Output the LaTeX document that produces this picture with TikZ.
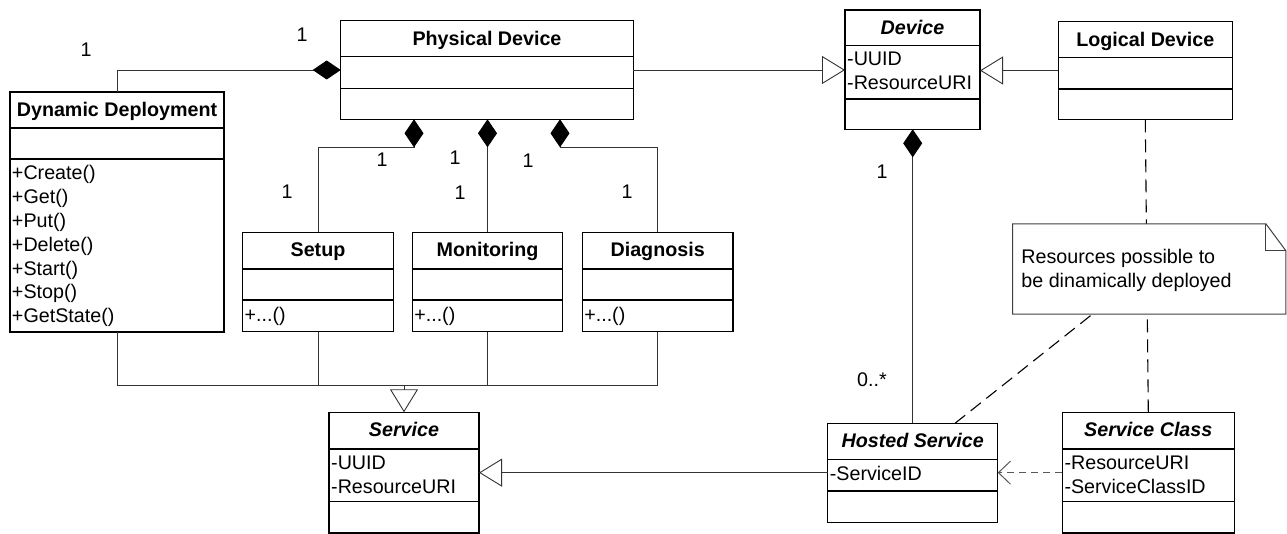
\documentclass[tikz,border=0pt]{standalone}
\usepackage{fontspec}
\setmainfont{Liberation Sans}
\usetikzlibrary{arrows.meta}

% text size used throughout the diagram
\newcommand{\umlfont}{\fontsize{19.7pt}{23.7pt}\selectfont}

% a UML class frame: name, left, top, right, bottom, first and second compartment rule
\newcommand{\umlbox}[7]{%
  \node[classframe, anchor=north west,
        minimum width={(#4)-(#2)}, minimum height={(#5)-(#3)}] (#1) at (#2,#3) {};
  \draw[classrule] (#2,#6) -- (#4,#6);
  \draw[classrule] (#2,#7) -- (#4,#7);
}

\tikzset{
  classframe/.style={draw=black, line width=1.4pt, fill=white, inner sep=0pt, outer sep=0pt},
  classrule/.style={draw=black, line width=1.4pt},
  title/.style={font=\umlfont\bfseries, anchor=base, inner sep=0pt},
  abstitle/.style={font=\umlfont\bfseries\itshape, anchor=base, inner sep=0pt},
  member/.style={font=\umlfont, anchor=base west, inner sep=0pt},
  mult/.style={font=\umlfont, anchor=base, inner sep=0pt},
  link/.style={draw=black!80, line width=0.9pt},
  comp/.style={link, -{Diamond[color=black, length=28pt, width=19pt]}},
  gen/.style={link, -{Triangle[open, length=23pt, width=28pt]}},
  dep/.style={draw=black!65, line width=1pt, dash pattern=on 7pt off 5pt,
              -{Straight Barb[length=12pt, width=23pt]}},
  notelink/.style={draw=black, line width=1.1pt, dash pattern=on 13pt off 7pt},
  notebox/.style={fill=white, draw=none, inner sep=0pt, minimum width=273pt, minimum height=90pt},
  noteedge/.style={draw=black!75, line width=1pt},
}

\begin{document}
\begin{tikzpicture}[x=1pt, y=-1pt]
\useasboundingbox (0,0) rectangle (1287,534);

% ---------- classes ----------
\umlbox{dd}{10}{92}{224}{332}{128}{159}
\umlbox{pd}{340.7}{20.7}{633.3}{119.3}{56.7}{88.3}
\umlbox{setup}{242.7}{232.3}{393.3}{331.7}{269}{300}
\umlbox{mon}{412.3}{232.3}{562.7}{331.7}{269}{300}
\umlbox{diag}{582.3}{232.3}{733}{331.7}{269}{300}
\umlbox{svc}{329}{412.3}{479}{533}{449}{501.7}
\umlbox{dev}{845}{10}{980}{129.3}{45.7}{99}
\umlbox{ld}{1058.3}{21.7}{1232.3}{119.3}{57.3}{89}
\umlbox{hs}{827.7}{423.3}{997.7}{522.3}{459.3}{491}
\umlbox{sc}{1062.3}{412.3}{1234.3}{533}{449}{501.7}

% ---------- class names ----------
\node[title]    (dd-t)    at ([yshift=-24.5pt]dd.north)    {Dynamic Deployment};
\node[title]    (pd-t)    at ([yshift=-24.5pt]pd.north)    {Physical Device};
\node[title]    (setup-t) at ([yshift=-24.5pt]setup.north) {Setup};
\node[title]    (mon-t)   at ([yshift=-24.5pt]mon.north)   {Monitoring};
\node[title]    (diag-t)  at ([yshift=-24.5pt]diag.north)  {Diagnosis};
\node[abstitle] (svc-t)   at ([yshift=-24.5pt]svc.north)   {Service};
\node[abstitle] (dev-t)   at ([yshift=-24.5pt]dev.north)   {Device};
\node[title]    (ld-t)    at ([yshift=-24.5pt]ld.north)    {Logical Device};
\node[abstitle] (hs-t)    at ([yshift=-24.5pt]hs.north)    {Hosted Service};
\node[abstitle] (sc-t)    at ([yshift=-24.5pt]sc.north)    {Service Class};

% ---------- members ----------
\node[member] (dd-m1) at (11.8,179.5) {+Create()};
\node[member] (dd-m2) at (11.8,203.4) {+Get()};
\node[member] (dd-m3) at (11.8,227.3) {+Put()};
\node[member] (dd-m4) at (11.8,251.2) {+Delete()};
\node[member] (dd-m5) at (11.8,275.1) {+Start()};
\node[member] (dd-m6) at (11.8,299.0) {+Stop()};
\node[member] (dd-m7) at (11.8,322.9) {+GetState()};

\node[member] (setup-m) at (244.5,321.5) {+...()};
\node[member] (mon-m)   at (414.1,321.5) {+...()};
\node[member] (diag-m)  at (584.1,321.5) {+...()};

\node[member] (svc-a1) at (331,469.3) {-UUID};
\node[member] (svc-a2) at (331,493.2) {-ResourceURI};
\node[member] (dev-a1) at (847,66)    {-UUID};
\node[member] (dev-a2) at (847,90)    {-ResourceURI};
\node[member] (hs-a1)  at (829.7,480) {-ServiceID};
\node[member] (sc-a1)  at (1064.3,469.3) {-ResourceURI};
\node[member] (sc-a2)  at (1064.3,493.2) {-ServiceClassID};

% ---------- compositions ----------
\draw[comp] (dd.north) |- (pd.west);
\coordinate (pdL) at ([xshift=-73pt]pd.south);
\coordinate (pdR) at ([xshift=73pt]pd.south);
\draw[comp] (setup.north) |- ([yshift=-28.3pt]pdL) -- (pdL);
\draw[comp] (mon.north) -- (mon.north |- pd.south);
\draw[comp] (diag.north) |- ([yshift=-28.3pt]pdR) -- (pdR);
\draw[comp] (hs.north) -- (hs.north |- dev.south);

% ---------- generalizations ----------
\coordinate (bus) at ([yshift=26.6pt]svc.north);
\draw[link] (dd.south) |- (diag.south |- bus) -- (diag.south);
\draw[link] (setup.south) -- (setup.south |- bus);
\draw[link] (mon.south) -- (mon.south |- bus);
\draw[gen] (bus) -- (svc.north);
\draw[gen] (pd.east) -- (pd.east -| dev.west);
\draw[gen] (ld.west) -- (ld.west -| dev.east);
\draw[gen] (hs.west |- svc.east) -- (svc.east);

% ---------- dependency ----------
\draw[dep] (sc.west) -- (sc.west -| hs.east);

% ---------- note and its anchors ----------
\coordinate (notemid) at (1149.2,269);
\coordinate (hsn) at ([xshift=42.3pt]hs.north);
\draw[notelink] (sc.north) -- (ld.south);
\draw[notelink] (hsn) -- (notemid);
\node[notebox] (note) at (notemid) {};
\draw[noteedge] (note.north west) -- ([xshift=-20pt]note.north east)
  -- ([yshift=-27pt]note.north east) -- (note.south east) -- (note.south west) -- cycle;
\draw[noteedge] ([xshift=-20pt]note.north east) |- ([yshift=-27pt]note.north east);
\node[member] (note-l1) at (1021.2,263.3) {Resources possible to};
\node[member] (note-l2) at (1021.2,287.3) {be dinamically deployed};

% ---------- multiplicities ----------
\node[mult] (m-dd)    at (86,56.5)    {1};
\node[mult] (m-pd)    at (302,41.5)   {1};
\node[mult] (m-pd1)   at (382,166.5)  {1};
\node[mult] (m-pd2)   at (455,164.5)  {1};
\node[mult] (m-pd3)   at (528,167.5)  {1};
\node[mult] (m-setup) at (287,198.5)  {1};
\node[mult] (m-mon)   at (460,199.5)  {1};
\node[mult] (m-diag)  at (627,198.5)  {1};
\node[mult] (m-dev)   at (882,178.5)  {1};
\node[mult] (m-hs)    at (872,386)    {0..*};
\end{tikzpicture}
\end{document}
